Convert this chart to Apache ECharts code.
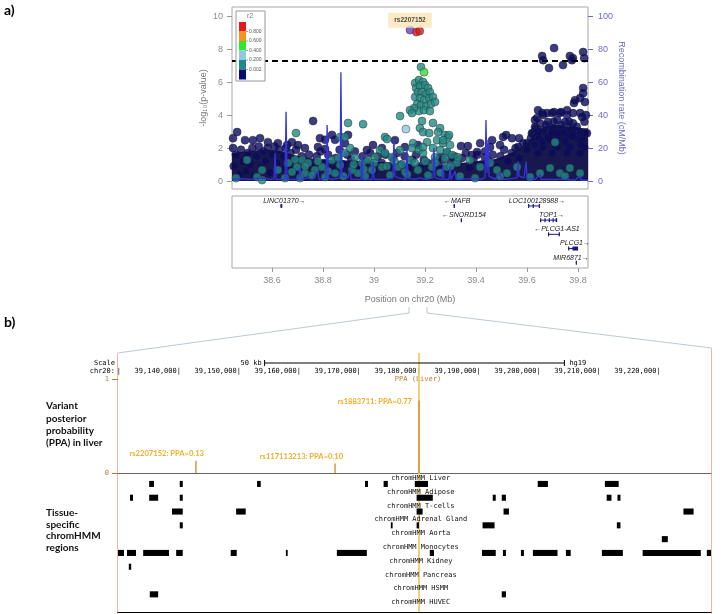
<!DOCTYPE html>
<html><head><meta charset="utf-8">
<script src="https://cdn.jsdelivr.net/npm/echarts@6/dist/echarts.min.js"></script>
<style>html,body{margin:0;padding:0;background:#fff}#c{width:722px;height:614px}</style>
</head><body><div id="c"></div>
<script>
// ================= Panel a) : regional association plot =================
const xTicksMb = [38.6, 38.8, 39.0, 39.2, 39.4, 39.6, 39.8];
const logpTicks = [0, 2, 4, 6, 8, 10];
const recTicks = [0, 20, 40, 60, 80, 100];
const gwsThreshold = 7.3;
const r2Colors = ['#e31a1c', '#f7941d', '#2ee82e', '#8ecae6', '#1b8a8a', '#0a0a6e'];
const r2Labels = ['0.800', '0.600', '0.400', '0.200', '0.002'];

const indexSnpName = 'rs2207152';
const indexSnp = [[39.141, 9.15]];
const redSnps = [[39.166, 9.03], [39.179, 9.09]];
const greenSnps = [[39.196, 6.6]];
const lightBlueSnps = [[39.125, 3.15]];
const tealSnps = [
  [39.184,6.91],[39.161,5.94],[39.176,6.12],[39.192,6.0],[39.165,5.64],[39.180,5.76],[39.200,5.82],[39.212,5.64],
  [39.172,5.39],[39.188,5.39],[39.204,5.27],[39.219,5.39],[39.161,5.09],[39.180,5.03],[39.196,4.91],[39.216,5.03],
  [39.231,5.09],[39.169,4.67],[39.184,4.61],[39.204,4.55],[39.223,4.67],[39.239,4.79],[39.176,4.24],[39.196,4.30],
  [39.219,4.24],[39.157,4.42],[39.141,4.30],[39.149,4.12],[39.102,3.94],[39.188,3.64],[39.231,3.52],[39.180,3.21],
  [39.192,2.97],[39.216,2.91],[39.259,3.21],[39.251,2.97],[39.278,2.79],[39.290,2.67],[39.247,2.48],[39.271,2.30],
  [39.298,2.18],[39.231,2.00],[39.259,1.88],[39.286,1.76],[39.239,1.45],[39.278,1.39],[39.306,1.58],[39.208,2.36],
  [39.153,2.30],[39.043,2.67],[39.051,2.55],[39.149,2.00],[39.102,1.88],[39.176,1.88],[39.192,1.70],[39.286,0.85],
  [39.325,1.09],[39.227,0.85],[38.898,3.52],[38.957,3.45],[38.694,2.91],[38.867,2.67],[38.886,2.67],[39.294,2.79],
  [39.271,2.48],[39.192,2.06],[39.329,1.45],[39.376,1.27],[39.416,0.85],[39.455,1.09],[39.482,0.67],[39.521,0.48],
  [39.561,0.85],[39.651,0.48],[39.690,0.79],[39.729,0.48],[39.768,0.79],[39.808,0.48],[39.710,2.36],
  [38.718,1.27],[38.741,1.09],[38.698,0.85],[38.768,0.67],[38.729,0.48],[38.678,0.55],[38.835,1.27],[38.886,1.70],
  [38.906,2.00],[38.925,1.45],[38.953,1.09],[38.976,1.27],[39.004,1.45],[39.023,1.88],[39.043,1.70],[39.031,0.85],
  [38.992,0.67],[38.937,0.48],[38.847,0.48],[38.796,0.85],[38.502,1.27],[38.561,0.67],[38.623,0.67],[38.663,1.09],
  [38.459,0.18],[38.541,0.24],[38.808,0.24],[39.094,0.85],[39.141,1.27],[39.172,0.67],[39.070,1.45],
  [38.757,0.36],[38.867,0.97],[38.914,0.67],[38.965,0.30],[39.063,0.36],[39.122,0.55],[39.212,0.36],[39.337,0.30],
  [39.396,0.18],[39.494,0.30],[39.612,0.24],[39.749,0.30],[38.561,0.06],[38.651,0.18],[38.710,0.18],
  [38.780,1.20],[38.820,0.60],[38.860,1.40],[38.880,0.30],[38.920,1.00],[38.960,0.70],[39.000,1.10],[39.050,0.90],
  [39.080,1.20],[39.110,1.00],[39.130,0.40],[39.160,1.10],[39.200,1.20],[39.240,1.10],[39.260,0.50],[39.300,0.90],
  [38.730,0.90],[38.690,1.30]
];
const navySnps = [
  [38.463,2.97],[38.447,2.60],[38.447,2.00],[38.494,2.48],[38.525,2.48],[38.553,2.60],[38.584,2.36],[38.623,2.30],
  [38.678,2.36],[38.659,2.18],[38.702,2.18],[38.761,3.64],[38.729,2.00],[38.788,2.60],[38.808,2.50],[38.835,2.80],
  [38.847,2.50],[38.898,2.80],[38.886,2.30],[38.780,2.06],[38.808,1.94],[38.996,2.18],[38.972,1.88],[39.031,2.00],
  [39.082,2.48],[39.121,2.06],[39.172,2.18],
  [39.341,2.12],[39.368,2.12],[39.416,2.30],[39.455,2.06],[39.494,2.18],[39.506,2.67],[39.518,2.79],[39.541,2.60],
  [39.569,2.60],[39.600,2.30],[39.619,2.90],[39.565,2.06],[39.463,2.48],[39.404,1.76],[39.435,1.45],[39.384,1.58],
  [39.310,1.45],[39.286,1.70],[39.259,1.45],
  [39.639,3.82],[39.663,4.00],[39.698,4.12],[39.729,4.12],[39.757,4.00],[39.651,3.50],[39.682,3.58],[39.718,3.70],
  [39.749,3.58],[39.780,3.50],[39.816,3.88],[39.631,3.27],[39.663,3.09],[39.702,3.20],[39.737,3.09],[39.768,3.20],
  [39.808,2.97],[39.827,2.90],[39.643,2.67],[39.682,2.67],[39.721,2.60],[39.761,2.79],[39.800,2.60],[39.788,4.90],
  [39.808,5.03],[39.827,4.79],[39.820,5.33],[39.784,4.73],[39.831,4.00],[39.820,5.64],[39.631,3.70],[39.643,4.30],
  [39.659,4.12],[39.678,4.12],[39.706,4.18],[39.733,4.18],[39.757,4.30],[39.780,4.12],[39.808,4.12],[39.635,3.20],
  [39.623,2.90],[39.698,2.90],[39.741,2.90],[39.780,2.90],[39.816,2.48],[39.663,2.06],[39.718,2.06],[39.768,2.06],
  [39.824,2.06],[39.643,1.70],[39.698,1.70],[39.757,1.70],[39.808,1.70],
  [39.659,7.58],[39.663,7.33],[39.706,8.06],[39.686,6.85],[39.741,7.03],[39.768,7.58],[39.780,7.45],[39.776,7.33],
  [39.820,7.82],[39.824,7.45],
  [38.450,0.9],[38.458,1.6],[38.470,0.4],[38.478,1.9],[38.486,1.2],[38.497,0.6],[38.505,1.7],[38.515,1.0],
  [38.523,2.0],[38.532,0.3],[38.540,1.5],[38.548,2.1],[38.557,0.8],[38.566,1.8],[38.575,1.2],[38.583,2.0],
  [38.592,0.5],[38.601,1.6],[38.610,2.1],[38.619,1.1],[38.628,1.9],[38.636,0.7],[38.645,1.5],[38.654,2.0],
  [38.663,0.9],[38.672,1.7],[38.683,1.3],[38.694,1.9],[38.705,0.6],[38.716,1.5],[38.730,1.2],[38.745,1.6],
  [38.760,0.9],[38.775,1.5],[38.790,1.8],[38.805,1.1],[38.820,1.6],[38.835,0.7],[38.850,1.4],[38.865,1.9],
  [38.880,1.0],[38.895,1.6],[38.910,1.3],[38.925,1.8],[38.940,0.9],[38.955,1.5],[38.970,1.2],[38.985,1.7],
  [39.000,0.6],[39.015,1.5],[39.030,1.1],[39.045,1.6],[39.060,0.9],[39.075,1.4],[39.090,1.7],[39.105,1.0],
  [39.120,1.5],[39.135,0.8],[39.150,1.3],[39.165,1.6],[39.180,0.9],[39.195,1.3],[39.210,1.1],[39.225,0.6],
  [39.240,1.2],[39.255,0.9],[39.270,1.3],[39.285,0.7],[39.300,1.2],[39.315,1.5],[39.330,1.0],[39.345,1.4],
  [39.360,1.7],[39.375,0.8],[39.390,1.3],[39.405,1.6],[39.420,1.0],[39.435,1.8],[39.450,1.2],[39.465,1.6],
  [39.480,0.9],[39.495,1.5],[39.510,1.9],[39.525,1.2],[39.540,1.7],[39.555,2.0],[39.570,1.4],[39.585,2.3],
  [39.600,1.9],[39.615,2.6],[39.630,2.2],[39.645,3.0],[39.660,2.4],[39.675,3.4],[39.690,2.5],[39.705,3.6],
  [39.720,2.9],[39.735,3.4],[39.750,2.4],[39.765,3.6],[39.780,2.7],[39.795,3.3],[39.810,2.2],[39.825,3.6],[39.835,2.9]
];
// upper edge of the solid, over-plotted band of low-r2 SNPs
const denseBandTop = [
  [38.443,1.7],[38.47,1.75],[38.50,1.8],[38.53,1.85],[38.56,1.9],[38.59,1.9],[38.62,1.85],[38.65,1.75],[38.68,1.6],
  [38.71,1.5],[38.74,1.4],[38.77,1.35],[38.80,1.3],[38.83,1.3],[38.86,1.3],[38.89,1.25],[38.92,1.25],[38.95,1.2],
  [38.98,1.2],[39.01,1.15],[39.04,1.15],[39.07,1.1],[39.10,1.1],[39.13,1.05],[39.16,1.0],[39.19,1.0],[39.22,0.95],
  [39.25,0.95],[39.28,1.0],[39.31,1.05],[39.34,1.1],[39.37,1.15],[39.40,1.2],[39.43,1.25],[39.46,1.3],[39.49,1.4],
  [39.52,1.6],[39.55,1.8],[39.58,2.1],[39.61,2.5],[39.64,3.0],[39.67,3.3],[39.70,3.4],[39.73,3.4],[39.76,3.3],
  [39.79,3.3],[39.82,3.2],[39.839,3.2]
];
const recombRate = [
  [38.443,1],[38.474,1.5],[38.514,1],[38.561,2],[38.592,1],[38.608,1.5],[38.612,17],[38.616,1],[38.651,1],[38.655,42],
  [38.659,1],[38.702,1],[38.710,8],[38.714,1],[38.741,2],[38.757,1],[38.780,6],[38.784,1],[38.812,1.5],[38.816,34],
  [38.820,2],[38.835,1],[38.867,2],[38.870,66],[38.874,3],[38.898,2],[38.906,7],[38.910,1],[38.925,1],[38.949,1],
  [38.953,17],[38.957,1],[38.992,1],[38.996,12],[39.000,1],[39.043,1],[39.074,2],[39.078,26],[39.082,3],[39.094,2],
  [39.125,1],[39.129,20],[39.133,2],[39.157,1],[39.180,2],[39.200,1],[39.231,2],[39.235,20],[39.239,2],[39.267,1],
  [39.270,10],[39.274,1],[39.294,1],[39.298,9],[39.302,1],[39.318,6],[39.322,1],[39.337,1],[39.376,1.5],[39.416,1],
  [39.435,2],[39.439,37],[39.443,5],[39.447,25],[39.451,3],[39.474,1],[39.494,5],[39.498,1],[39.514,1],[39.561,2],
  [39.565,12],[39.569,3],[39.588,2],[39.596,12],[39.600,2],[39.631,1],[39.651,4],[39.655,1],[39.690,1],[39.749,1],
  [39.788,0.5],[39.808,3],[39.812,0.5],[39.839,0.5]
];

// genes (Mb)
const geneNames  = ['LINC01370', 'MAFB', 'SNORD154', 'LOC100128988', 'TOP1', 'PLCG1-AS1', 'PLCG1', 'MIR6871'];
const geneStrand = ['+', '-', '-', '+', '+', '-', '+', '+'];
const geneStart  = [38.633, 39.312, 39.340, 39.604, 39.651, 39.682, 39.761, 39.791];
const geneEnd    = [38.640, 39.317, 39.342, 39.650, 39.718, 39.729, 39.800, 39.793];
const geneRow    = [0, 0, 1, 0, 1, 2, 3, 4];
const geneExons  = [
  [[38.633,38.640]], [[39.312,39.317]], [[39.340,39.342]],
  [[39.604,39.607],[39.622,39.625],[39.646,39.650]],
  [[39.651,39.653],[39.668,39.671],[39.685,39.688],[39.700,39.703],[39.712,39.718]],
  [[39.682,39.684],[39.724,39.729]],
  [[39.761,39.763],[39.778,39.800]],
  [[39.791,39.793]]
];

// ================= Panel b) : UCSC browser view =================
const browserStart = 39129500, browserEnd = 39228400;
const browserTicks = [39130000,39140000,39150000,39160000,39170000,39180000,39190000,39200000,39210000,39220000];
const scaleBarBp = 50000;
const ppaSnps   = ['rs2207152', 'rs117113213', 'rs1883711'];
const ppaPos    = [39142500, 39165700, 39179700];
const ppaValues = [0.13, 0.10, 0.77];

const tracks = ['chromHMM Liver','chromHMM Adipose','chromHMM T-cells','chromHMM Adrenal Gland','chromHMM Aorta',
                'chromHMM Monocytes','chromHMM Kidney','chromHMM Pancreas','chromHMM HSMM','chromHMM HUVEC'];
const hmmLiver = [[39134700,39135500],[39139800,39140300],[39152700,39153300],[39170700,39171200],[39173800,39174500],
                  [39179000,39181200],[39199500,39201200],[39210700,39213000]];
const hmmAdipose = [[39131500,39132000],[39134700,39136200],[39139800,39140300],[39179300,39182000],[39192000,39192500],
                    [39193500,39194200],[39211000,39211800],[39212800,39213300]];
const hmmTcells = [[39138500,39140300],[39149200,39150800],[39179300,39180300],[39193800,39194700],[39223800,39225500]];
const hmmAdrenal = [[39139800,39140300],[39175000,39175300],[39179300,39179700],[39190300,39192300],[39212700,39213300]];
const hmmAorta = [[39220200,39221200]];
const hmmMonocytes = [[39129500,39130500],[39131000,39132500],[39133700,39138000],[39139200,39140300],[39148300,39149300],
                      [39157500,39157800],[39166000,39171000],[39181500,39182200],[39190200,39192500],[39193700,39194200],
                      [39196700,39197200],[39198700,39202800],[39204200,39205000],[39210200,39213700],[39217000,39226700],
                      [39227700,39228400]];
const hmmKidney = [[39131300,39131700]];
const hmmPancreas = [];
const hmmHSMM = [[39134800,39136200],[39193500,39194200]];
const hmmHUVEC = [];
const hmmByTrack = [hmmLiver,hmmAdipose,hmmTcells,hmmAdrenal,hmmAorta,hmmMonocytes,hmmKidney,hmmPancreas,hmmHSMM,hmmHUVEC];

// ================= build =================
const SANS = '"Liberation Sans", Arial, sans-serif';
const MONO = '"DejaVu Sans Mono", monospace';
const BOLD = 'Lato, "Open Sans", sans-serif';
const NAVY = '#0a0a5e';

const geneData = geneNames.map((n, i) => [geneStart[i], geneEnd[i], geneRow[i], i]);
const ppaData = ppaPos.map((p, i) => [p, ppaValues[i], i]);
const hmmData = [];
hmmByTrack.forEach((blocks, t) => blocks.forEach(b => hmmData.push([t, b[0], b[1]])));
const trackLabelPos = 39180000;
const trackLabelData = tracks.map((t, i) => [trackLabelPos, i]);
const maxPpaIdx = ppaValues.indexOf(Math.max(...ppaValues));

function snpSeries(name, data, color, z, size, border) {
  return { name, type: 'scatter', xAxisIndex: 0, yAxisIndex: 0, data, z,
    symbolSize: size || 8, itemStyle: { color, borderColor: border || '#333', borderWidth: 0.6 } };
}

const series = [
  { name: 'dense band', type: 'line', xAxisIndex: 0, yAxisIndex: 0, data: denseBandTop, z: 1,
    symbol: 'none', showSymbol: false, lineStyle: { width: 0 }, areaStyle: { color: '#181850', opacity: 1 } },
  Object.assign(snpSeries('r2 < 0.002', navySnps, NAVY, 2, 8, '#22223a'), {
    markLine: { silent: true, symbol: 'none', label: { show: false },
      lineStyle: { color: '#000', type: [6, 4], width: 2 }, data: [{ yAxis: gwsThreshold }] } }),
  snpSeries('0.002-0.2', tealSnps, '#218985', 3),
  snpSeries('0.2-0.4', lightBlueSnps, '#8ec8e2', 3),
  { name: 'recombination', type: 'line', xAxisIndex: 0, yAxisIndex: 1, data: recombRate, z: 4,
    symbol: 'none', showSymbol: false, lineStyle: { color: '#3434dc', width: 1.3 } },
  snpSeries('0.4-0.6', greenSnps, '#33dd33', 5),
  snpSeries('0.8-1', redSnps, '#d91c1c', 5),
  Object.assign(snpSeries('index', indexSnp, '#6e3cc0', 6), {
    label: { show: true, position: 'top', distance: -2, formatter: indexSnpName, color: '#222',
      fontFamily: SANS, fontWeight: 'bold', fontSize: 6.5, backgroundColor: '#fbe4b8', padding: [4, 6] } }),
  { name: 'genes', type: 'custom', xAxisIndex: 1, yAxisIndex: 2, data: geneData, encode: { x: [0, 1], y: 2 },
    renderItem(params, api) {
      const i = api.value(3), row = api.value(2);
      const s = api.coord([api.value(0), row]), e = api.coord([api.value(1), row]);
      const ch = [{ type: 'line', shape: { x1: s[0], y1: s[1], x2: Math.max(e[0], s[0] + 0.8), y2: s[1] },
        style: { stroke: '#1a1a80', lineWidth: 1 } }];
      geneExons[i].forEach(ex => {
        const a = api.coord([ex[0], row]), b = api.coord([ex[1], row]);
        ch.push({ type: 'rect', shape: { x: a[0], y: a[1] - 2, width: Math.max(b[0] - a[0], 1.2), height: 4 },
          style: { fill: '#1a1a80' } });
      });
      const label = geneStrand[i] === '+' ? geneNames[i] + '\u2192' : '\u2190' + geneNames[i];
      const w = label.length * 4.0;
      let cx = (s[0] + e[0]) / 2 + 3;
      const right = params.coordSys.x + params.coordSys.width - 1;
      if (cx + w / 2 > right) cx = right - w / 2;
      ch.push({ type: 'text', x: cx, y: s[1] - 5,
        style: { text: label, font: 'italic 7px ' + SANS, fill: '#222', align: 'center', verticalAlign: 'middle' } });
      return { type: 'group', children: ch };
    } },
  { name: 'highlight', type: 'custom', xAxisIndex: 2, yAxisIndex: 3, data: [[ppaPos[maxPpaIdx], 0]], z: 1,
    encode: { x: 0, y: 1 },
    renderItem(params, api) {
      const p = api.coord([api.value(0), 0]);
      const cs = params.coordSys;
      return { type: 'line', shape: { x1: p[0], y1: cs.y - 26, x2: p[0], y2: cs.y + cs.height + 139 },
        style: { stroke: '#f0c860', lineWidth: 2, opacity: 0.85 } };
    } },
  { name: 'scale bar', type: 'custom', xAxisIndex: 2, yAxisIndex: 3,
    data: [[(browserStart + browserEnd) / 2 - scaleBarBp / 2, (browserStart + browserEnd) / 2 + scaleBarBp / 2]],
    encode: { x: [0, 1] },
    renderItem(params, api) {
      const cs = params.coordSys;
      const a = api.coord([api.value(0), 1]), b = api.coord([api.value(1), 1]);
      const y = cs.y - 16;
      return { type: 'group', children: [
        { type: 'line', shape: { x1: a[0], y1: y, x2: b[0], y2: y }, style: { stroke: '#000', lineWidth: 1 } },
        { type: 'line', shape: { x1: a[0], y1: y - 3, x2: a[0], y2: y + 3 }, style: { stroke: '#000', lineWidth: 1 } },
        { type: 'line', shape: { x1: b[0], y1: y - 3, x2: b[0], y2: y + 3 }, style: { stroke: '#000', lineWidth: 1 } },
        { type: 'text', x: a[0] - 3, y: y, style: { text: (scaleBarBp / 1000) + ' kb', font: '7px ' + MONO, fill: '#000', align: 'right', verticalAlign: 'middle' } },
        { type: 'text', x: b[0] + 5, y: y, style: { text: 'hg19', font: '7px ' + MONO, fill: '#000', align: 'left', verticalAlign: 'middle' } }
      ] };
    } },
  { name: 'PPA', type: 'custom', xAxisIndex: 2, yAxisIndex: 3, data: ppaData, z: 3, encode: { x: 0, y: 1 },
    renderItem(params, api) {
      const i = api.value(2);
      const b = api.coord([api.value(0), 0]), t = api.coord([api.value(0), api.value(1)]);
      const text = ppaSnps[i] + ': PPA=' + ppaValues[i].toFixed(2);
      const big = api.value(1) > 0.5;
      return { type: 'group', children: [
        { type: 'line', shape: { x1: b[0], y1: b[1], x2: t[0], y2: t[1] }, style: { stroke: '#cc8a2c', lineWidth: 1.3 } },
        { type: 'text', x: big ? t[0] - 7 : t[0] + 8, y: big ? t[1] + 1 : t[1] - 7,
          style: { text, font: 'bold 7.6px ' + BOLD, fill: '#efb02a', align: 'right', verticalAlign: 'middle' } }
      ] };
    } },
  { name: 'chromHMM', type: 'custom', xAxisIndex: 4, yAxisIndex: 4, data: hmmData, z: 3, encode: { x: [1, 2], y: 0 },
    renderItem(params, api) {
      const t = api.value(0);
      const a = api.coord([api.value(1), t]), b = api.coord([api.value(2), t]);
      const band = api.size([0, 1])[1];
      const h = band * 0.44;
      return { type: 'rect', shape: { x: a[0], y: a[1] + band * 0.22 - h / 2, width: Math.max(b[0] - a[0], 1.5), height: h },
        style: { fill: '#000' } };
    } },
  { name: 'track labels', type: 'custom', xAxisIndex: 4, yAxisIndex: 4, data: trackLabelData, z: 3, encode: { x: 0, y: 1 },
    renderItem(params, api) {
      const i = api.value(1);
      const p = api.coord([api.value(0), i]);
      const band = api.size([0, 1])[1];
      return { type: 'text', x: p[0], y: p[1] - band * 0.2,
        style: { text: tracks[i], font: '7px ' + MONO, fill: '#111', align: 'center', verticalAlign: 'middle' } };
    } }
];

// static decorations
const graphic = [
  { type: 'text', x: 4, y: 10, style: { text: 'a)', font: 'bold 14px ' + BOLD, fill: '#000', verticalAlign: 'middle' } },
  { type: 'text', x: 4, y: 322, style: { text: 'b)', font: 'bold 14px ' + BOLD, fill: '#000', verticalAlign: 'middle' } },
  { type: 'polyline', shape: { points: [[409, 307], [409, 313], [117.5, 353]] }, style: { stroke: '#b9cad8', lineWidth: 1, fill: null } },
  { type: 'polyline', shape: { points: [[427, 307], [427, 313], [711.5, 348]] }, style: { stroke: '#b9cad8', lineWidth: 1, fill: null } },
  { type: 'line', shape: { x1: 117.5, y1: 353, x2: 117.5, y2: 614 }, style: { stroke: '#f4b0b0', lineWidth: 1 } },
  { type: 'line', shape: { x1: 711.5, y1: 348, x2: 711.5, y2: 614 }, style: { stroke: '#f4b0b0', lineWidth: 1 } },
  { type: 'text', x: 115, y: 363, style: { text: 'Scale', font: '7px ' + MONO, fill: '#000', align: 'right', verticalAlign: 'middle' } },
  { type: 'text', x: 115, y: 371, style: { text: 'chr20:', font: '7px ' + MONO, fill: '#000', align: 'right', verticalAlign: 'middle' } },
  { type: 'text', x: 418, y: 379, style: { text: 'PPA (Liver)', font: '7px ' + MONO, fill: '#b87a2a', align: 'center', verticalAlign: 'middle' } }
];
['Variant', 'posterior', 'probability', '(PPA) in liver'].forEach((t, k) =>
  graphic.push({ type: 'text', x: 46, y: 406 + k * 12.3, style: { text: t, font: 'bold 10px ' + BOLD, fill: '#111', verticalAlign: 'middle' } }));
['Tissue-', 'specific', 'chromHMM', 'regions'].forEach((t, k) =>
  graphic.push({ type: 'text', x: 46, y: 513 + k * 11.5, style: { text: t, font: 'bold 10px ' + BOLD, fill: '#111', verticalAlign: 'middle' } }));
// r2 legend
graphic.push({ type: 'rect', shape: { x: 236, y: 11, width: 29, height: 70 }, style: { fill: '#fff', stroke: '#999', lineWidth: 1 }, z: 10 });
graphic.push({ type: 'text', x: 250, y: 16, z: 11, style: { text: 'r2', font: '7px ' + SANS, fill: '#777', align: 'center', verticalAlign: 'middle' } });
r2Colors.forEach((c, k) => graphic.push({ type: 'rect', z: 11,
  shape: { x: 239, y: 22 + k * 9.5, width: 7, height: k === r2Colors.length - 1 ? 10 : 9.5 }, style: { fill: c } }));
r2Labels.forEach((t, k) => {
  graphic.push({ type: 'line', z: 11, shape: { x1: 246, y1: 22 + (k + 1) * 9.5, x2: 248, y2: 22 + (k + 1) * 9.5 }, style: { stroke: '#666', lineWidth: 0.6 } });
  graphic.push({ type: 'text', x: 249, y: 22 + (k + 1) * 9.5, z: 11, style: { text: t, font: '5px ' + SANS, fill: '#555', verticalAlign: 'middle' } });
});

const noZero = { show: false, onZero: false };
const option = {
  animation: false,
  backgroundColor: '#fff',
  grid: [
    { left: 232, top: 7, width: 356, height: 182, show: true, borderColor: '#a8a8a8', borderWidth: 1 },
    { left: 232, top: 196, width: 356, height: 72, show: true, borderColor: '#a8a8a8', borderWidth: 1 },
    { left: 118, top: 379, width: 593, height: 94 },
    { left: 118, top: 474, width: 593, height: 138 }
  ],
  xAxis: [
    { gridIndex: 0, type: 'value', min: 38.443, max: 39.839, axisLine: noZero, axisTick: { show: false },
      axisLabel: { show: false }, splitLine: { show: false } },
    { gridIndex: 1, type: 'value', min: 38.443, max: 39.839, position: 'bottom', axisLine: noZero,
      axisTick: { show: true, customValues: xTicksMb, length: 4, lineStyle: { color: '#999' } },
      axisLabel: { customValues: xTicksMb, formatter: v => String(+(+v).toFixed(1)), color: '#8a8a8a', fontSize: 9, fontFamily: SANS, margin: 8 },
      splitLine: { show: false }, name: 'Position on chr20 (Mb)', nameLocation: 'middle', nameGap: 27,
      nameTextStyle: { color: '#777', fontSize: 9, fontFamily: SANS } },
    { gridIndex: 2, type: 'value', min: browserStart, max: browserEnd, position: 'top', axisLine: noZero,
      axisTick: { show: false }, splitLine: { show: false },
      axisLabel: { customValues: browserTicks, align: 'right', margin: 4, fontFamily: MONO, fontSize: 7, color: '#000',
        formatter: v => (v - browserStart < 8000 ? '|' : Number(v).toLocaleString('en-US') + '|') } },
    { gridIndex: 2, type: 'value', min: browserStart, max: browserEnd, position: 'bottom',
      axisLine: { show: true, onZero: false, lineStyle: { color: '#666' } }, axisTick: { show: false }, axisLabel: { show: false }, splitLine: { show: false } },
    { gridIndex: 3, type: 'value', min: browserStart, max: browserEnd, position: 'bottom',
      axisLine: { show: true, onZero: false, lineStyle: { color: '#000', width: 1.2 } }, axisTick: { show: false }, axisLabel: { show: false }, splitLine: { show: false } }
  ],
  yAxis: [
    { gridIndex: 0, type: 'value', min: -0.48, max: 10.55, position: 'left', axisLine: noZero,
      axisTick: { show: true, customValues: logpTicks, length: 5, lineStyle: { color: '#999' } },
      axisLabel: { customValues: logpTicks, color: '#8a8a8a', fontSize: 9, fontFamily: SANS, margin: 9 },
      splitLine: { show: false }, name: '-log\u2081\u2080(p-value)', nameLocation: 'middle', nameGap: 24, nameRotate: 90,
      nameTextStyle: { color: '#777', fontSize: 9, fontFamily: SANS } },
    { gridIndex: 0, type: 'value', min: -4.8, max: 105.5, position: 'right', axisLine: noZero,
      axisTick: { show: true, customValues: recTicks, length: 5, lineStyle: { color: '#6a6acb' } },
      axisLabel: { customValues: recTicks, color: '#6a6acb', fontSize: 9, fontFamily: SANS, margin: 10 },
      splitLine: { show: false }, name: 'Recombination rate (cM/Mb)', nameLocation: 'middle', nameGap: 27, nameRotate: -90,
      nameTextStyle: { color: '#6a6acb', fontSize: 9, fontFamily: SANS } },
    { gridIndex: 1, type: 'value', inverse: true, min: -0.7, max: 4.37, show: false, axisLine: noZero },
    { gridIndex: 2, type: 'value', min: 0, max: 1, axisLine: noZero,
      axisTick: { show: true, customValues: [0, 1], length: 6, lineStyle: { color: '#b87a2a' } },
      axisLabel: { customValues: [0, 1], color: '#b87a2a', fontSize: 7, fontFamily: MONO, margin: 9 },
      splitLine: { show: false } },
    { gridIndex: 3, type: 'category', data: tracks, inverse: true, show: false, axisLine: noZero }
  ],
  series,
  graphic
};

const chart = echarts.init(document.getElementById('c'));
chart.setOption(option);
</script></body></html>
